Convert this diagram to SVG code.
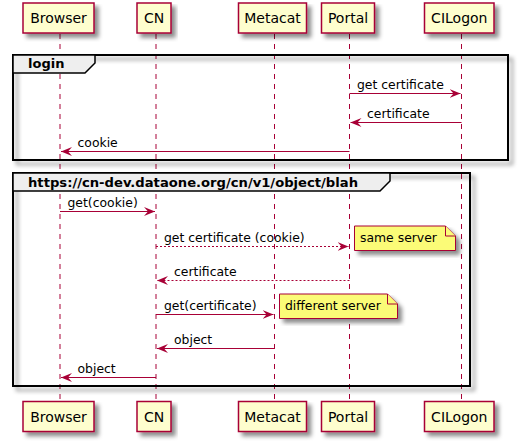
<svg xmlns="http://www.w3.org/2000/svg" width="519" height="443" viewBox="0 0 519 443">
<defs>
<filter id="sh" x="-10%" y="-10%" width="130%" height="140%">
<feGaussianBlur in="SourceAlpha" stdDeviation="2" result="b"/>
<feOffset dx="4" dy="4" in="b" result="o"/>
<feColorMatrix in="o" type="matrix" values="0 0 0 0 0  0 0 0 0 0  0 0 0 0 0  0 0 0 0.45 0" result="c"/>
<feMerge><feMergeNode in="c"/><feMergeNode in="SourceGraphic"/></feMerge>
</filter>
<marker id="ah" viewBox="0 0 11 9" refX="11" refY="4.5" markerWidth="11" markerHeight="9" markerUnits="userSpaceOnUse" orient="auto">
<polygon points="0,0 11,4.5 0,9 4,4.5" fill="#A80036"/>
</marker>
</defs>
<style>
.part rect{fill:#FEFECE;stroke:#A80036;stroke-width:1.5}
.part text{font-family:"DejaVu Sans",sans-serif;font-size:14px;fill:#000;text-anchor:middle}
.life{stroke:#A80036;stroke-width:1;stroke-dasharray:5,5}
.msg{stroke:#A80036;stroke-width:1;fill:none;marker-end:url(#ah)}
.dash{stroke-dasharray:2,2}
.mt{font-family:"DejaVu Sans",sans-serif;font-size:12.4px;fill:#000}
.frame{fill:none;stroke:#000;stroke-width:2}
.tab{fill:#EEEEEE;stroke:#000;stroke-width:1.5}
.ft{font-family:"DejaVu Sans",sans-serif;font-size:13px;font-weight:bold;fill:#000}
.note path{fill:#FBFB77;stroke:#A80036;stroke-width:1}
.note text{font-family:"DejaVu Sans",sans-serif;font-size:12.4px;fill:#000}
</style>
<g id="lifelines">
<line class="life" x1="60" y1="34" x2="60" y2="401"/>
<line class="life" x1="156" y1="34" x2="156" y2="401"/>
<line class="life" x1="274.5" y1="34" x2="274.5" y2="401"/>
<line class="life" x1="349.5" y1="34" x2="349.5" y2="401"/>
<line class="life" x1="461.5" y1="34" x2="461.5" y2="401"/>
</g>
<g id="frame-login">
<rect x="13" y="55" width="495" height="105" class="frame" filter="url(#sh)"/>
<polygon class="tab" points="13,55 95,55 95,63 85,73 13,73"/>
<text class="ft" x="28" y="68">login</text>
</g>
<g id="frame-object">
<rect x="13" y="173" width="457" height="213" class="frame" filter="url(#sh)"/>
<polygon class="tab" points="13,173 390,173 390,181 380,191 13,191"/>
<text class="ft" x="28" y="186.5" textLength="330" lengthAdjust="spacingAndGlyphs">https://cn-dev.dataone.org/cn/v1/object/blah</text>
</g>
<g id="p-browser-top" class="part"><rect x="23" y="3" width="71" height="30" filter="url(#sh)"/><text x="58.5" y="23">Browser</text></g>
<g id="p-cn-top" class="part"><rect x="137" y="3" width="34" height="30" filter="url(#sh)"/><text x="154" y="23">CN</text></g>
<g id="p-metacat-top" class="part"><rect x="238.5" y="3" width="68" height="30" filter="url(#sh)"/><text x="272.5" y="23">Metacat</text></g>
<g id="p-portal-top" class="part"><rect x="321.5" y="3" width="53" height="30" filter="url(#sh)"/><text x="348" y="23">Portal</text></g>
<g id="p-cilogon-top" class="part"><rect x="424.5" y="3" width="69.5" height="30" filter="url(#sh)"/><text x="459.3" y="23">CILogon</text></g>
<g id="p-browser-bot" class="part"><rect x="23" y="401.5" width="71" height="30" filter="url(#sh)"/><text x="58.5" y="422">Browser</text></g>
<g id="p-cn-bot" class="part"><rect x="137" y="401.5" width="34" height="30" filter="url(#sh)"/><text x="154" y="422">CN</text></g>
<g id="p-metacat-bot" class="part"><rect x="238.5" y="401.5" width="68" height="30" filter="url(#sh)"/><text x="272.5" y="422">Metacat</text></g>
<g id="p-portal-bot" class="part"><rect x="321.5" y="401.5" width="53" height="30" filter="url(#sh)"/><text x="348" y="422">Portal</text></g>
<g id="p-cilogon-bot" class="part"><rect x="424.5" y="401.5" width="69.5" height="30" filter="url(#sh)"/><text x="459.3" y="422">CILogon</text></g>
<g id="connectors">
<line class="msg" x1="349.5" y1="93.5" x2="460.5" y2="93.5"/>
<text class="mt" x="357" y="88.5">get certificate</text>
<line class="msg" x1="461.5" y1="122.5" x2="350.5" y2="122.5"/>
<text class="mt" x="367" y="117.5">certificate</text>
<line class="msg" x1="349.5" y1="151.5" x2="61" y2="151.5"/>
<text class="mt" x="77.5" y="146.5">cookie</text>
<line class="msg" x1="60" y1="211.5" x2="155" y2="211.5"/>
<text class="mt" x="67.5" y="206.5">get(cookie)</text>
<line class="msg dash" x1="156" y1="246.5" x2="348.5" y2="246.5"/>
<text class="mt" x="164" y="241.5">get certificate (cookie)</text>
<line class="msg dash" x1="349.5" y1="280.5" x2="157" y2="280.5"/>
<text class="mt" x="174" y="275.5">certificate</text>
<line class="msg" x1="156" y1="314.5" x2="273.5" y2="314.5"/>
<text class="mt" x="164" y="309.5">get(certificate)</text>
<line class="msg" x1="274.5" y1="348.5" x2="157" y2="348.5"/>
<text class="mt" x="174" y="343.5">object</text>
<line class="msg" x1="156" y1="377.5" x2="61" y2="377.5"/>
<text class="mt" x="77.5" y="372.5">object</text>
</g>
<g id="note-same" class="note">
<path d="M354.5,226 L354.5,250.5 L455.5,250.5 L455.5,236 L445.5,226 Z" filter="url(#sh)"/>
<path d="M445.5,226 L445.5,236 L455.5,236" fill="none"/>
<text x="360" y="242">same server</text>
</g>
<g id="note-different" class="note">
<path d="M279.5,294 L279.5,318.5 L397.5,318.5 L397.5,304 L387.5,294 Z" filter="url(#sh)"/>
<path d="M387.5,294 L387.5,304 L397.5,304" fill="none"/>
<text x="285" y="310">different server</text>
</g>
</svg>
